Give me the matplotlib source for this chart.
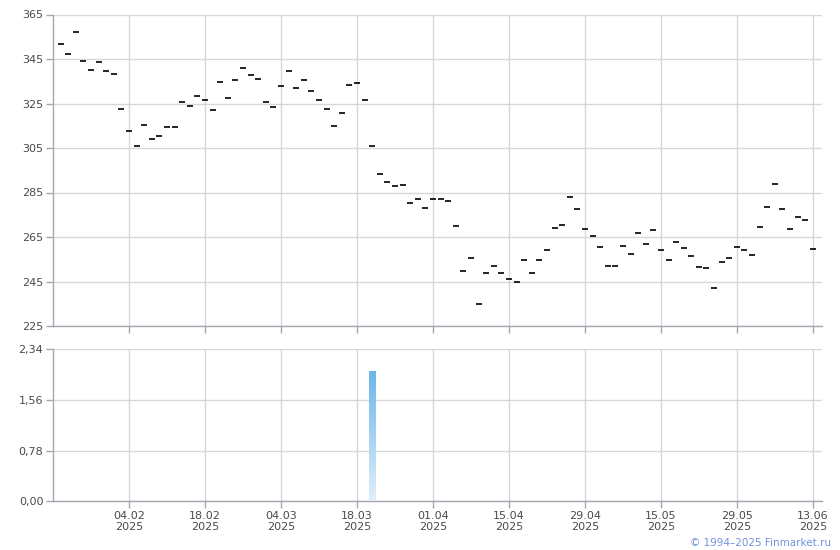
import matplotlib
matplotlib.use('Agg')
import matplotlib.pyplot as plt
import numpy as np
from matplotlib.colors import LinearSegmentedColormap

# Closing prices per trading day (index 1..100)
prices = [351.7, 347.2, 357.0, 344.0, 339.9, 343.7, 339.6, 338.1, 322.5, 312.5,
          305.9, 315.2, 308.9, 310.3, 314.3, 314.3, 325.5, 323.7, 328.2, 326.4,
          321.9, 334.5, 327.3, 335.4, 340.8, 337.7, 335.9, 325.5, 323.3, 332.7,
          339.5, 331.8, 335.4, 330.5, 326.4, 322.4, 314.8, 320.6, 333.2, 334.1,
          326.4, 305.8, 293.2, 289.6, 287.8, 288.2, 280.1, 281.9, 277.9, 281.9,
          281.9, 281.0, 269.8, 249.6, 255.4, 234.8, 248.7, 251.8, 248.7, 246.0,
          244.6, 254.7, 248.7, 254.7, 259.0, 268.9, 270.3, 282.8, 277.4, 268.5,
          265.3, 260.4, 251.8, 251.8, 260.8, 257.2, 266.7, 261.7, 268.0, 259.0,
          254.5, 262.6, 259.9, 256.3, 251.4, 250.9, 241.9, 253.6, 255.4, 260.4,
          259.0, 256.8, 269.4, 278.3, 288.7, 277.4, 268.5, 273.9, 272.5, 259.5]
day_index = list(range(1, len(prices) + 1))

# Volume (only one non-zero day)
volume_index = [42]
volume_values = [2.0]

# X tick labels at trading-day indices
xtick_index = [10, 20, 30, 40, 50, 60, 70, 80, 90, 100]
xtick_labels = ['04.02\n2025', '18.02\n2025', '04.03\n2025', '18.03\n2025',
                '01.04\n2025', '15.04\n2025', '29.04\n2025', '15.05\n2025',
                '29.05\n2025', '13.06\n2025']

price_ticks = [225, 245, 265, 285, 305, 325, 345, 365]
vol_ticks = [0.0, 0.78, 1.56, 2.34]
vol_tick_labels = ['0,00', '0,78', '1,56', '2,34']

grid_c = '#d4d7db'
spine_c = '#a3a7af'
text_c = '#4a4a4a'

fig = plt.figure(figsize=(8.4, 5.5), dpi=100)
L = 53 / 840
W = (822 - 53) / 840
ax1 = fig.add_axes([L, 1 - 326 / 550, W, (326 - 14.5) / 550])
ax2 = fig.add_axes([L, 1 - 501.3 / 550, W, (501.3 - 349.3) / 550])

xlim = (0, 101.2)

for ax in (ax1, ax2):
    ax.set_xlim(*xlim)
    ax.set_xticks(xtick_index)
    ax.grid(True, color=grid_c, linewidth=1)
    ax.set_axisbelow(True)
    for s in ('top', 'right'):
        ax.spines[s].set_visible(False)
    for s in ('left', 'bottom'):
        ax.spines[s].set_color(spine_c)
        ax.spines[s].set_linewidth(1)
    ax.tick_params(axis='both', colors=spine_c, labelcolor=text_c,
                   length=5, width=1, labelsize=8, direction='out')

ax1.plot(day_index, prices, linestyle='none', marker='_', markersize=4.5,
         markeredgewidth=1.2, color='black', clip_on=False)
ax1.set_ylim(225, 365)
ax1.set_yticks(price_ticks)
ax1.set_xticklabels([])
ax1.tick_params(axis='y', pad=2)

ax2.set_ylim(0, 2.34)
ax2.set_yticks(vol_ticks)
ax2.set_yticklabels(vol_tick_labels)
ax2.set_xticklabels(xtick_labels)
ax2.tick_params(axis='x', pad=2)
ax2.tick_params(axis='y', pad=2)
for lab in ax2.get_xticklabels():
    lab.set_linespacing(1.1)

cmap = LinearSegmentedColormap.from_list('vol', ['#e1effa', '#6cb6ec'])
bars = ax2.bar(volume_index, volume_values, width=0.8, color='none', edgecolor='none')
grad = np.linspace(0, 1, 256).reshape(-1, 1)
for b in bars:
    x0 = b.get_x()
    w = b.get_width()
    h = b.get_height()
    im = ax2.imshow(grad, extent=[x0, x0 + w, 0, h], origin='lower', cmap=cmap,
                    aspect='auto', zorder=3)
    im.set_clip_path(b)
ax2.set_xlim(*xlim)
ax2.set_ylim(0, 2.34)

fig.text(831 / 840, 1 - 543 / 550, '© 1994–2025 Finmarket.ru', ha='right', va='center',
         fontsize=7.5, color='#7092dc')

fig.savefig('out.png', dpi=100)
